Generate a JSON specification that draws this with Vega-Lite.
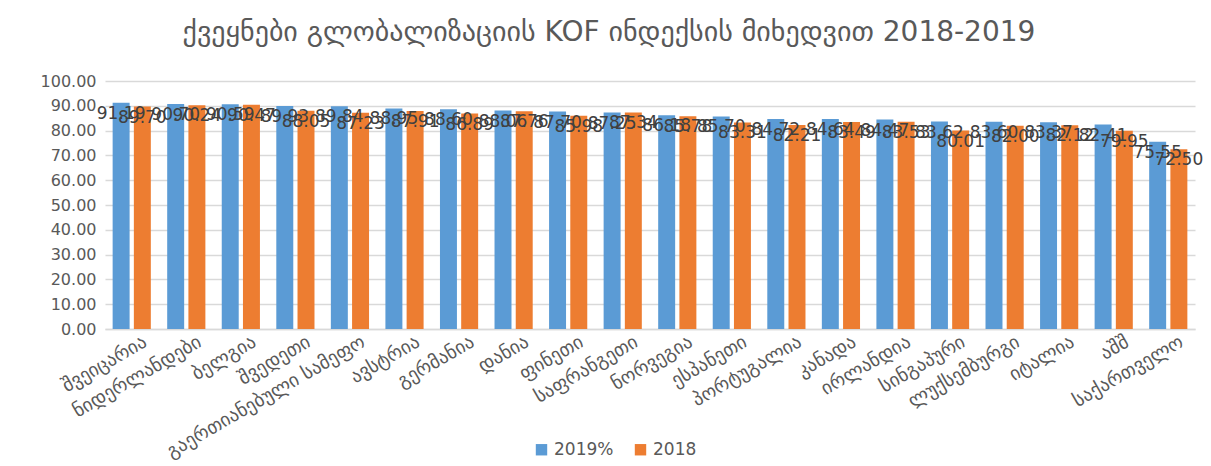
{
  "$schema": "https://vega.github.io/schema/vega-lite/v6.json",
  "autosize": {"type": "none"},
  "width": 1090,
  "height": 248,
  "padding": {"left": 105, "top": 81, "right": 16, "bottom": 137},
  "background": "white",
  "title": {
    "text": "ქვეყნები გლობალიზაციის KOF ინდექსის მიხედვით 2018-2019",
    "font": "DejaVu Sans",
    "fontSize": 28,
    "fontWeight": "normal",
    "color": "#595959",
    "anchor": "middle",
    "dx": -41,
    "offset": 26
  },
  "data": {
    "values": [
      {"country": "შვეიცარია", "series": "2019%", "value": 91.19},
      {"country": "შვეიცარია", "series": "2018", "value": 89.70},
      {"country": "ნიდერლანდები", "series": "2019%", "value": 90.70},
      {"country": "ნიდერლანდები", "series": "2018", "value": 90.24},
      {"country": "ბელგია", "series": "2019%", "value": 90.59},
      {"country": "ბელგია", "series": "2018", "value": 90.47},
      {"country": "შვედეთი", "series": "2019%", "value": 89.93},
      {"country": "შვედეთი", "series": "2018", "value": 88.05},
      {"country": "გაერთიანებული სამეფო", "series": "2019%", "value": 89.84},
      {"country": "გაერთიანებული სამეფო", "series": "2018", "value": 87.23},
      {"country": "ავსტრია", "series": "2019%", "value": 88.95},
      {"country": "ავსტრია", "series": "2018", "value": 87.91},
      {"country": "გერმანია", "series": "2019%", "value": 88.60},
      {"country": "გერმანია", "series": "2018", "value": 86.89},
      {"country": "დანია", "series": "2019%", "value": 88.06},
      {"country": "დანია", "series": "2018", "value": 87.76},
      {"country": "ფინეთი", "series": "2019%", "value": 87.70},
      {"country": "ფინეთი", "series": "2018", "value": 85.98},
      {"country": "საფრანგეთი", "series": "2019%", "value": 87.25},
      {"country": "საფრანგეთი", "series": "2018", "value": 87.34},
      {"country": "ნორვეგია", "series": "2019%", "value": 86.18},
      {"country": "ნორვეგია", "series": "2018", "value": 85.78},
      {"country": "ესპანეთი", "series": "2019%", "value": 85.70},
      {"country": "ესპანეთი", "series": "2018", "value": 83.31},
      {"country": "პორტუგალია", "series": "2019%", "value": 84.72},
      {"country": "პორტუგალია", "series": "2018", "value": 82.21},
      {"country": "კანადა", "series": "2019%", "value": 84.64},
      {"country": "კანადა", "series": "2018", "value": 83.49},
      {"country": "ირლანდია", "series": "2019%", "value": 84.47},
      {"country": "ირლანდია", "series": "2018", "value": 83.53},
      {"country": "სინგაპური", "series": "2019%", "value": 83.62},
      {"country": "სინგაპური", "series": "2018", "value": 80.01},
      {"country": "ლუქსემბურგი", "series": "2019%", "value": 83.60},
      {"country": "ლუქსემბურგი", "series": "2018", "value": 82.00},
      {"country": "იტალია", "series": "2019%", "value": 83.37},
      {"country": "იტალია", "series": "2018", "value": 82.12},
      {"country": "აშშ", "series": "2019%", "value": 82.41},
      {"country": "აშშ", "series": "2018", "value": 79.95},
      {"country": "საქართველო", "series": "2019%", "value": 75.55},
      {"country": "საქართველო", "series": "2018", "value": 72.50}
    ]
  },
  "encoding": {
    "x": {
      "field": "country",
      "type": "nominal",
      "sort": null,
      "scale": {"paddingInner": 0.3, "paddingOuter": 0.14},
      "axis": {
        "title": null,
        "labelAngle": -30,
        "labelAlign": "right",
        "labelBaseline": "top",
        "labelFont": "DejaVu Sans",
        "labelFontSize": 19,
        "labelColor": "#595959",
        "labelPadding": 3,
        "labelOffset": 9,
        "labelLimit": 400,
        "labelOverlap": false,
        "ticks": false,
        "domainColor": "#d9d9d9",
        "domainWidth": 1.5
      }
    },
    "xOffset": {"field": "series", "type": "nominal", "sort": ["2019%", "2018"], "scale": {"paddingInner": 0.2}},
    "y": {
      "field": "value",
      "type": "quantitative",
      "scale": {"domain": [0, 100]},
      "axis": {
        "title": null,
        "values": [0, 10, 20, 30, 40, 50, 60, 70, 80, 90, 100],
        "format": ".2f",
        "domain": false,
        "ticks": false,
        "labelFont": "DejaVu Sans",
        "labelFontSize": 16,
        "labelColor": "#595959",
        "labelPadding": 9,
        "gridColor": "#d9d9d9",
        "gridWidth": 1.5
      }
    }
  },
  "layer": [
    {
      "mark": {"type": "bar"},
      "encoding": {
        "color": {
          "field": "series",
          "type": "nominal",
          "sort": ["2019%", "2018"],
          "scale": {"domain": ["2019%", "2018"], "range": ["#5B9BD5", "#ED7D31"]},
          "legend": {
            "title": null,
            "orient": "none",
            "direction": "horizontal",
            "legendX": 428,
            "legendY": 360,
            "symbolType": "square",
            "symbolSize": 130,
            "labelFont": "DejaVu Sans",
            "labelFontSize": 17,
            "labelColor": "#595959",
            "columnPadding": 18
          }
        }
      }
    },
    {
      "mark": {"type": "text", "baseline": "middle", "dy": 11, "font": "DejaVu Sans", "fontSize": 17, "color": "#404040"},
      "encoding": {
        "text": {"field": "value", "type": "quantitative", "format": ".2f"}
      }
    }
  ],
  "config": {"view": {"stroke": null}}
}
